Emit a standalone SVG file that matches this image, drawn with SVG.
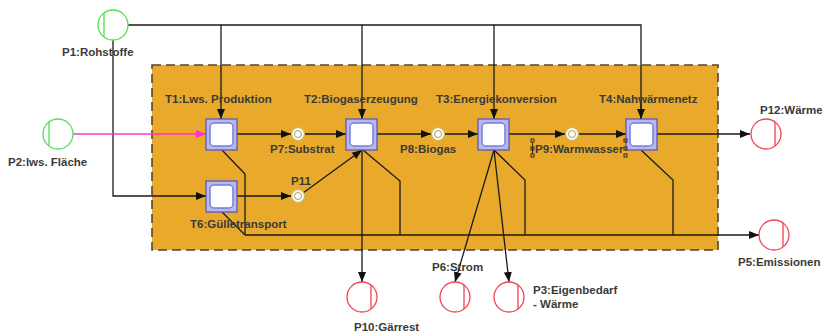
<svg xmlns="http://www.w3.org/2000/svg" width="822" height="336" viewBox="0 0 822 336">
<defs>
<marker id="ah" viewBox="0 0 10 10" refX="10" refY="5" markerWidth="10" markerHeight="10" markerUnits="userSpaceOnUse" orient="auto"><path d="M0,1 L10,5 L0,9 z" fill="#111"/></marker>
<marker id="ahm" viewBox="0 0 10 10" refX="10" refY="5" markerWidth="10" markerHeight="10" markerUnits="userSpaceOnUse" orient="auto"><path d="M0,1 L10,5 L0,9 z" fill="#ff33cc"/></marker>
<style>
text{font-family:"Liberation Sans",Arial,sans-serif;font-size:11.5px;font-weight:bold;fill:#3a3a3a}
.c{fill:none;stroke:#1a1a1a;stroke-width:1.3}
.a{marker-end:url(#ah)}
.to{fill:#b8b8ee;stroke:#5050c0;stroke-width:1.2}
.ti{fill:#fff;stroke:#7a7ae0;stroke-width:1.5}
.ps{fill:#fffbe6;stroke:#c9b774;stroke-width:1.2}
.psi{fill:#fff;stroke:#a89c70;stroke-width:1}
.pg{fill:#fff;stroke:#55dd55;stroke-width:1.3}
.pr{fill:#fff;stroke:#ee4455;stroke-width:1.3}
.h{fill:none;stroke:#3a2a10;stroke-width:1}
</style>
</defs>
<rect x="152" y="65" width="566" height="185" fill="#e9a92b" stroke="#5a4322" stroke-width="1.6" stroke-dasharray="9,5"/>
<g id="connectors">
<polyline class="c" points="128,25 641,25 641,119"/>
<line class="c a" x1="221" y1="25" x2="221" y2="119"/>
<line class="c a" x1="362" y1="25" x2="362" y2="119"/>
<line class="c a" x1="494" y1="25" x2="494" y2="119"/>
<line class="c a" x1="641" y1="100" x2="641" y2="119"/>
<polyline class="c a" points="113,40 113,196 206,196"/>
<line x1="73" y1="134" x2="206" y2="134" stroke="#ff33cc" stroke-width="1.4" marker-end="url(#ahm)"/>
<line class="c a" x1="237" y1="134" x2="291" y2="134"/>
<line class="c a" x1="304" y1="134" x2="346" y2="134"/>
<line class="c a" x1="377" y1="134" x2="431" y2="134"/>
<line class="c a" x1="444" y1="134" x2="478" y2="134"/>
<line class="c a" x1="509" y1="134" x2="565" y2="134"/>
<line class="c a" x1="578" y1="134" x2="626" y2="134"/>
<line class="c a" x1="657" y1="134" x2="750" y2="134"/>
<line class="c a" x1="237" y1="196" x2="291" y2="196"/>
<line class="c a" x1="303" y1="193" x2="362" y2="150"/>
<polyline class="c" points="222,150 245,174 245,235"/>
<polyline class="c" points="222,212 245,235"/>
<line class="c a" x1="362" y1="150" x2="362" y2="282"/>
<polyline class="c" points="363,150 400,181 400,235"/>
<line class="c a" x1="494" y1="150" x2="455" y2="282"/>
<line class="c a" x1="494" y1="150" x2="509" y2="282"/>
<polyline class="c" points="494,150 525,180 525,235"/>
<polyline class="c" points="641,150 673,180 673,235"/>
<line class="c a" x1="245" y1="235" x2="759" y2="235"/>
</g>
<g id="P1"><circle class="pg" cx="113" cy="25" r="15"/><line class="pg" x1="104" y1="13" x2="104" y2="37"/><text x="62" y="56">P1:Rohstoffe</text></g>
<g id="P2"><circle class="pg" cx="58" cy="134" r="15"/><line class="pg" x1="49" y1="122" x2="49" y2="146"/><text x="8" y="166">P2:lws. Fläche</text></g>
<g id="T1"><rect class="to" x="206" y="119" width="31" height="31"/><rect class="ti" x="210" y="123" width="23" height="23" rx="4"/><text x="165" y="103">T1:Lws. Produktion</text></g>
<g id="T2"><rect class="to" x="346" y="119" width="31" height="31"/><rect class="ti" x="350" y="123" width="23" height="23" rx="4"/><text x="304" y="103">T2:Biogaserzeugung</text></g>
<g id="T3"><rect class="to" x="478" y="119" width="31" height="31"/><rect class="ti" x="482" y="123" width="23" height="23" rx="4"/><text x="436" y="103">T3:Energiekonversion</text></g>
<g id="T4"><rect class="to" x="626" y="119" width="31" height="31"/><rect class="ti" x="630" y="123" width="23" height="23" rx="4"/><text x="599" y="103">T4:Nahwärmenetz</text></g>
<g id="T6"><rect class="to" x="206" y="181" width="31" height="31"/><rect class="ti" x="210" y="185" width="23" height="23" rx="4"/><text x="190" y="228">T6:Gülletransport</text></g>
<g id="P7"><circle class="ps" cx="298" cy="134" r="6.5"/><circle class="psi" cx="298" cy="134" r="3.5"/><text x="270" y="153">P7:Substrat</text></g>
<g id="P8"><circle class="ps" cx="438" cy="134" r="6.5"/><circle class="psi" cx="438" cy="134" r="3.5"/><text x="400" y="153">P8:Biogas</text></g>
<g id="P9"><circle class="ps" cx="572" cy="134" r="6.5"/><circle class="psi" cx="572" cy="134" r="3.5"/><text x="535" y="153">P9:Warmwasser</text>
<rect class="h" x="531" y="139" width="3" height="3"/><rect class="h" x="531" y="147" width="3" height="3"/><rect class="h" x="531" y="154" width="3" height="3"/><rect class="h" x="624" y="139" width="3" height="3"/><rect class="h" x="624" y="147" width="3" height="3"/><rect class="h" x="624" y="154" width="3" height="3"/><line class="h" x1="532.5" y1="142" x2="532.5" y2="154"/></g>
<g id="P11"><circle class="ps" cx="298" cy="196" r="6.5"/><circle class="psi" cx="298" cy="196" r="3.5"/><text x="291" y="185">P11</text></g>
<g id="P12"><circle class="pr" cx="766" cy="134" r="15"/><line class="pr" x1="775" y1="122" x2="775" y2="146"/><text x="760" y="114">P12:Wärme</text></g>
<g id="P5"><circle class="pr" cx="774" cy="235" r="15"/><line class="pr" x1="783" y1="223" x2="783" y2="247"/><text x="738" y="266">P5:Emissionen</text></g>
<g id="P10"><circle class="pr" cx="362" cy="297" r="15"/><line class="pr" x1="371" y1="285" x2="371" y2="309"/><text x="354" y="331">P10:Gärrest</text></g>
<g id="P6"><circle class="pr" cx="455" cy="297" r="15"/><line class="pr" x1="464" y1="285" x2="464" y2="309"/><text x="432" y="271">P6:Strom</text></g>
<g id="P3"><circle class="pr" cx="509" cy="297" r="15"/><line class="pr" x1="518" y1="285" x2="518" y2="309"/><text x="533" y="294">P3:Eigenbedarf</text><text x="533" y="308">- Wärme</text></g>
</svg>
